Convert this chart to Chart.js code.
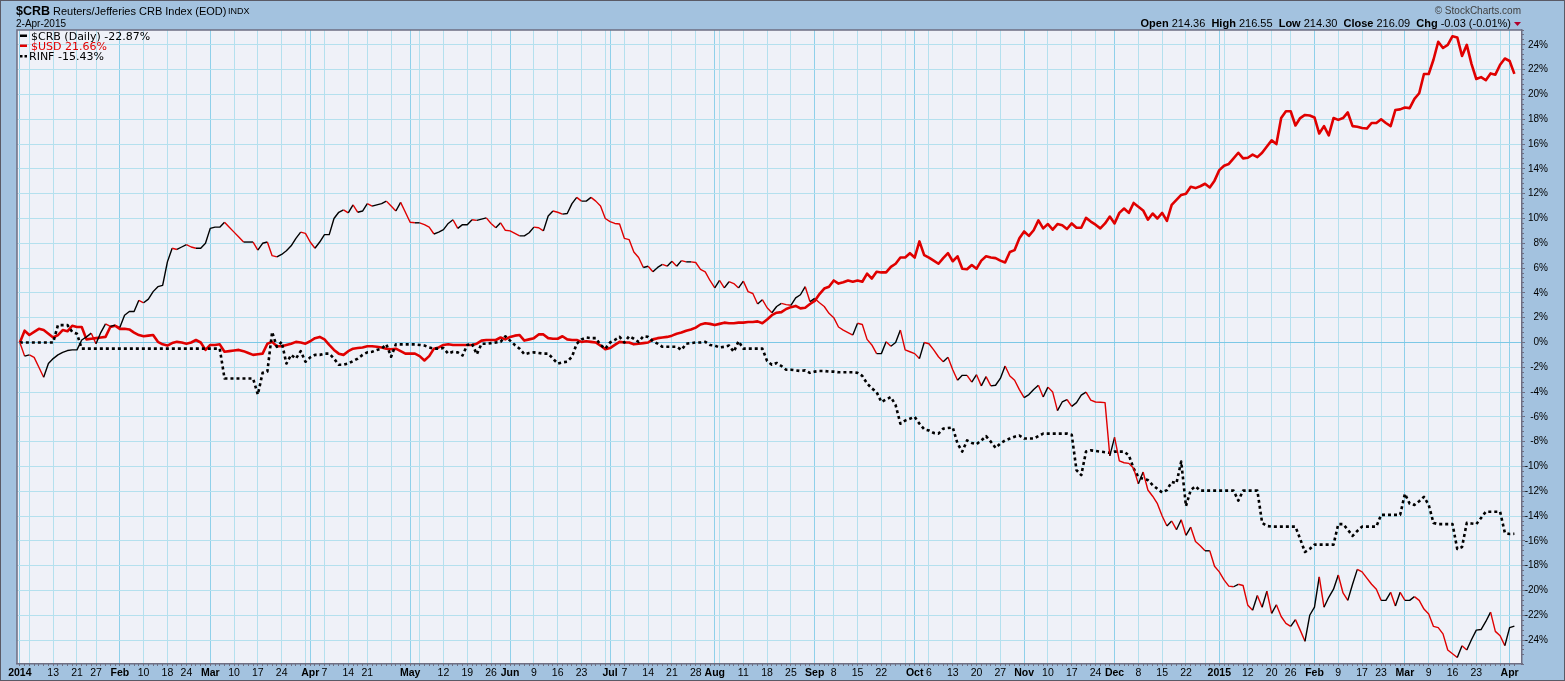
<!DOCTYPE html>
<html>
<head>
<meta charset="utf-8">
<title>$CRB vs $USD vs RINF</title>
<script src="https://cdn.jsdelivr.net/npm/chart.js@4.4.1/dist/chart.umd.min.js"></script>
<style>
  html, body { margin: 0; padding: 0; background: #a3c2df; }
</style>
</head>
<body>
<canvas id="crb-chart" width="1565" height="681"></canvas>
<script>
// percent change since 2-Jan-2014, one value per trading day (index 0 = 2-Jan-2014, 314 = 2-Apr-2015)
const crb = [
  0, -1.1, -1.0, -1.2, -2.0, -2.8, -1.7, -1.3, -1.0, -0.8,
  -0.65, -0.6, -0.6, 0.2, 0.45, 0.75, -0.1, 0.8, 1.5, 1.3,
  1.4, 1.2, 2.2, 2.5, 2.5, 3.4, 3.2, 3.5, 4.1, 4.5,
  4.6, 6.5, 7.6, 7.5, 7.7, 7.9, 7.7, 7.6, 7.6, 8.0,
  9.2, 9.3, 9.3, 9.7, 9.3, 8.9, 8.5, 8.1, 8.1, 8.1,
  7.45, 8.0, 8.1, 7.0, 6.9, 7.1, 7.4, 7.8, 8.4, 8.9,
  8.8, 8.1, 7.6, 8.1, 8.7, 8.7, 10.0, 10.5, 10.7, 10.45,
  11.1, 10.5, 10.6, 11.2, 11.0, 11.1, 11.2, 11.4, 11.0, 10.6,
  11.3, 10.5, 9.7, 9.65, 9.65, 9.5, 9.3, 8.75, 8.9, 9.1,
  9.6, 9.9, 9.2, 9.5, 9.5, 9.9, 9.85, 9.95, 10.05, 9.6,
  9.25, 9.65, 9.05, 9.0, 8.8, 8.6, 8.6, 8.85, 9.3, 9.25,
  9.0, 10.2, 10.6, 10.5, 10.35, 10.4, 11.2, 11.7, 11.4, 11.4,
  11.7, 11.4, 11.0, 10.0, 9.75, 9.6, 9.55, 8.4, 8.3, 7.3,
  6.85, 6.05, 6.15, 5.7, 6.05, 6.3, 6.15, 6.55, 6.15, 6.6,
  6.5, 6.5, 6.45, 5.9, 5.7, 5.0, 4.4, 5.0, 4.4, 4.9,
  4.75, 4.4, 4.95, 4.1, 3.95, 3.1, 3.45, 2.8, 2.4, 2.9,
  3.15, 3.05, 3.0, 3.6, 3.85, 4.5, 3.3, 3.55, 3.2, 2.9,
  2.35, 2.0, 1.25, 1.0, 0.8, 0.6, 1.55, 1.45, 0.25, -0.2,
  -0.9, -0.9, 0.05, -0.3, 0.0, 1.0, -0.6, -0.75, -0.9, -1.3,
  0.0, -0.1, -0.6, -1.15, -1.55, -1.2, -2.2, -3.05, -2.65, -2.65,
  -3.2, -2.6, -3.5, -2.75, -3.5, -3.45, -2.9, -1.9, -2.7, -3.05,
  -3.8, -4.45, -4.2, -3.8, -3.45, -4.4, -3.6, -4.0, -5.5, -4.8,
  -4.6, -5.15, -4.85, -4.25, -4.0, -4.65, -4.8, -4.82, -4.85, -9.15,
  -7.65, -9.55, -9.7, -9.75, -10.15, -11.4, -10.45, -11.9, -12.4, -13.0,
  -14.0, -14.8, -14.4, -15.1, -14.3, -15.55, -14.9, -16.05, -16.4, -16.8,
  -16.8, -18.05, -18.5, -19.15, -19.65, -19.7, -19.5, -19.6, -21.2, -21.6,
  -20.4, -21.35, -20.05, -21.85, -21.15, -22.1, -22.65, -22.9, -22.35, -23.2,
  -24.1, -22.0, -21.35, -18.9, -21.35, -20.55, -19.9, -18.75, -20.2, -20.8,
  -19.5, -18.3, -18.5, -19.0, -19.5, -19.9, -20.8, -20.8, -20.15, -21.25,
  -20.15, -20.8, -20.8, -20.5, -20.8, -21.5, -21.9, -22.9, -23.0, -23.5,
  -24.8, -25.1, -25.4, -24.45, -24.8, -23.95, -23.2, -23.15, -22.5, -21.75,
  -23.3, -23.65, -24.45, -23.0, -22.87
];

const usd = [
  0, 0.95, 0.6, 0.85, 1.1, 1.0, 0.7, 0.4, 0.6, 1.0,
  0.9, 1.35, 1.25, 1.25, 0.25, 0.3, 0.35, 0.4, 0.45, 1.25,
  1.35, 1.1, 1.1, 1.05, 0.8, 0.6, 0.5, 0.55, 0.6, 0.05,
  -0.15, -0.25, -0.05, 0.05, 0.0, -0.1, 0.0, 0.2, 0.0, -0.6,
  -0.2, -0.2, -0.15, -0.75, -0.7, -0.65, -0.6, -0.7, -0.85, -1.0,
  -0.95, -0.9, -0.1, 0.05, -0.3, -0.3, -0.2, -0.1, 0.05, 0.0,
  -0.1, 0.1, 0.35, 0.45, 0.25, -0.2, -0.6, -0.9, -1.0, -0.7,
  -0.5, -0.45, -0.4, -0.3, -0.3, -0.35, -0.4, -0.5, -0.55, -0.5,
  -0.7, -0.9, -0.9, -0.9, -1.1, -1.45, -1.1, -0.5, -0.4, -0.2,
  -0.15, -0.2, -0.2, -0.2, -0.2, -0.2, -0.1, 0.15, 0.2, 0.2,
  0.2, 0.4, 0.25, 0.45, 0.55, 0.6, 0.15, 0.25, 0.35, 0.65,
  0.65, 0.35, 0.3, 0.3, 0.5, 0.25, 0.2, 0.2, 0.05, 0.1,
  0.05, 0.0, -0.25, -0.55, -0.45, -0.2, 0.05, 0.0, 0.0, -0.15,
  -0.1, -0.05, 0.0, 0.25, 0.35, 0.4, 0.45, 0.55, 0.7, 0.8,
  0.95, 1.05, 1.2, 1.45, 1.55, 1.5, 1.4, 1.5, 1.6, 1.55,
  1.55, 1.6, 1.6, 1.65, 1.65, 1.7, 1.55, 1.85, 2.2, 2.4,
  2.45, 2.7, 2.85, 2.95, 2.75, 2.8, 3.1, 3.35, 3.9, 4.35,
  4.5, 5.0, 4.75, 4.85, 5.0, 4.9, 5.0, 4.9, 5.55, 5.15,
  5.7, 5.65, 5.65, 6.1, 6.35, 6.85, 6.85, 7.2, 6.85, 8.15,
  7.05, 6.85, 6.6, 6.35, 6.8, 7.2, 6.55, 6.95, 5.95, 5.9,
  6.25, 5.95, 6.6, 6.95, 6.85, 6.8, 6.6, 6.45, 7.3, 7.45,
  8.4, 8.95, 8.6, 9.05, 9.85, 9.2, 9.55, 9.1, 9.55, 9.45,
  9.15, 9.6, 9.25, 9.25, 10.05, 9.75, 9.5, 9.2, 9.6, 10.15,
  9.6, 10.45, 10.8, 10.45, 11.25, 10.95, 10.65, 9.9, 10.4, 10.0,
  10.45, 9.8, 11.1, 11.5, 11.9, 12.0, 12.55, 12.45, 12.6, 12.8,
  12.5, 13.05, 13.9, 14.25, 14.4, 14.85, 15.3, 14.85, 14.9, 15.15,
  14.95, 15.3, 15.8, 16.3, 16.0, 18.1, 18.65, 18.65, 17.5, 18.1,
  18.35, 18.3, 18.15, 16.85, 17.45, 16.7, 18.1, 17.95, 18.1, 18.55,
  17.45, 17.4, 17.3, 17.25, 17.7, 17.7, 18.0, 17.7, 17.45, 18.75,
  18.8, 18.95, 18.9, 19.65, 20.1, 21.65, 21.65, 22.8, 24.25, 23.75,
  24.0, 24.7, 24.6, 23.1, 24.0, 22.45, 21.25, 21.4, 21.15, 21.7,
  21.6, 22.4, 22.9, 22.7, 21.66
];

const rinf = [
  0, 0, 0, 0, 0, 0, 0, 0, 1.4, 1.4,
  1.4, 0.85, 0.7, -0.5, -0.5, -0.5, -0.5, -0.5, -0.5, -0.5,
  -0.5, -0.5, -0.5, -0.5, -0.5, -0.5, -0.5, -0.5, -0.5, -0.5,
  -0.5, -0.5, -0.5, -0.5, -0.5, -0.5, -0.5, -0.5, -0.5, -0.5,
  -0.5, -0.5, -0.5, -2.9, -2.9, -2.9, -2.9, -2.9, -2.9, -2.9,
  -4.2, -2.45, -2.35, 0.85, -0.35, 0.05, -1.7, -1.0, -1.3, -0.7,
  -1.55, -1.2, -1.0, -1.0, -0.9, -0.9, -1.3, -1.8, -1.8, -1.7,
  -1.5, -1.3, -1.0, -0.8, -0.75, -0.6, -0.5, -0.15, -1.15, -0.15,
  -0.15, -0.15, -0.15, -0.15, -0.2, -0.25, -0.4, -0.5, -0.5, -0.45,
  -0.9, -0.75, -0.8, -1.05, -0.2, -0.1, -0.95, -0.1, -0.1, -0.05,
  0.0, 0.05, 0.5, 0.15, -0.2, -0.5, -0.95, -0.85, -0.8, -0.85,
  -0.9, -0.9, -1.3, -1.7, -1.6, -1.55, -1.15, -0.1, 0.25, 0.4,
  0.35, 0.35, -0.2, -0.5, 0.0, 0.2, 0.45, 0.0, 0.5, 0.3,
  0.05, 0.5, 0.45, 0.1, -0.1, -0.35, -0.35, -0.35, -0.35, -0.6,
  -0.1, -0.05, 0.0, 0.0, 0.05, -0.2, -0.25, -0.4, -0.35, -0.25,
  -0.75, 0.1, -0.5, -0.5, -0.5, -0.5, -0.5, -1.5, -1.8, -1.65,
  -1.9, -2.2, -2.2, -2.25, -2.3, -2.25, -2.45, -2.35, -2.3, -2.3,
  -2.35, -2.35, -2.4, -2.4, -2.4, -2.4, -2.45, -2.7, -3.3, -3.7,
  -4.0, -4.8, -4.6, -4.4, -5.05, -6.55, -6.3, -6.15, -6.0, -6.55,
  -7.0, -7.1, -7.3, -7.35, -6.95, -6.9, -6.85, -8.15, -8.8, -7.9,
  -8.1, -8.2, -7.9, -7.55, -8.0, -8.5, -8.15, -7.9, -7.75, -7.6,
  -7.5, -7.75, -7.75, -7.75, -7.55, -7.35, -7.35, -7.35, -7.35, -7.35,
  -7.35, -7.45, -10.3, -10.7, -8.8, -8.7, -8.75, -8.8, -8.85, -8.9,
  -8.8, -8.8, -8.8, -9.1, -10.15, -10.85, -11.0, -11.1, -11.5, -11.8,
  -12.1, -11.9, -11.25, -11.35, -9.6, -13.2, -11.9, -11.6, -11.95, -11.95,
  -11.95, -11.95, -11.95, -11.95, -11.95, -11.95, -12.75, -11.95, -11.95, -11.95,
  -11.95, -14.55, -14.8, -14.85, -14.85, -14.85, -14.85, -14.85, -14.85, -15.85,
  -16.9, -16.65, -16.3, -16.3, -16.3, -16.3, -16.3, -14.65, -14.65, -15.1,
  -15.6, -15.2, -14.85, -14.85, -14.85, -14.85, -13.9, -13.9, -13.9, -13.9,
  -13.9, -12.2, -13.0, -13.1, -12.8, -12.45, -13.1, -14.55, -14.65, -14.65,
  -14.65, -14.65, -16.65, -16.5, -14.55, -14.6, -14.65, -14.15, -13.65, -13.65,
  -13.65, -13.65, -15.35, -15.45, -15.43
];

// x axis: trading-day index of each week / month gridline and its label
const tickDays = [0, 2, 7, 12, 16, 21, 26, 31, 35, 40, 45, 50, 55, 60, 61, 64, 69, 73, 78,
  82, 84, 89, 94, 99, 103, 108, 113, 118, 123, 124, 127, 132, 137, 142, 146, 147, 152, 157, 162,
  167, 171, 176, 181, 186, 188, 191, 196, 201, 206, 211, 216, 221, 226, 230, 235, 240, 245, 249,
  252, 253, 258, 263, 267, 272, 277, 282, 286, 291, 296, 301, 306, 311, 313];
const tickText = ['2014', '', '13', '21', '27', 'Feb', '10', '18', '24', 'Mar', '10', '17', '24', '', 'Apr', '7', '14', '21', '',
  'May', '', '12', '19', '26', 'Jun', '9', '16', '23', '', 'Jul', '7', '14', '21', '28', 'Aug', '', '11', '18', '25',
  'Sep', '8', '15', '22', '', 'Oct', '6', '13', '20', '27', 'Nov', '10', '17', '24', 'Dec', '8', '15', '22', '',
  '2015', '', '12', '20', '26', 'Feb', '9', '17', '23', 'Mar', '9', '16', '23', '', 'Apr'];
const monthTick = ['2014', 'Feb', 'Mar', 'Apr', 'May', 'Jun', 'Jul', 'Aug', 'Sep', 'Oct', 'Nov', 'Dec', '2015'];
const yTicks = [24, 22, 20, 18, 16, 14, 12, 10, 8, 6, 4, 2, 0, -2, -4, -6, -8, -10, -12, -14, -16, -18, -20, -22, -24];

const OUTER_BG = '#a3c2df';
const PLOT_BG = '#eff1f8';
const GRID = '#b4e0ee';
const MONTH_GRID = '#8fd0ea';
const ZERO_GRID = '#7cc8e6';
const AXIS = '#6e6e82';
const RED = '#e00000';
const SANS = '"Liberation Sans", Arial, sans-serif';
const LEGEND_FONT = '"DejaVu Sans", Verdana, sans-serif';

const isMonth = i => monthTick.includes(tickText[i]);
const pts = arr => arr.map((v, i) => ({ x: i, y: v }));

// title, price line, legend and frame
const chrome = {
    id: 'chrome',
    beforeDraw(chart) {
        const { ctx, chartArea: a, width, height } = chart;
        ctx.save();
        ctx.fillStyle = OUTER_BG;
        ctx.fillRect(0, 0, width, height);
        ctx.fillStyle = PLOT_BG;
        ctx.fillRect(a.left, a.top, a.right - a.left, a.bottom - a.top);
        ctx.restore();
    },
    afterDraw(chart) {
        const { ctx, chartArea: a, width, height } = chart;
        ctx.save();

        // plot frame (top + left), outer frame
        ctx.strokeStyle = AXIS;
        ctx.lineWidth = 1.5;
        ctx.beginPath();
        ctx.moveTo(a.left, a.bottom);
        ctx.lineTo(a.left, a.top);
        ctx.lineTo(a.right, a.top);
        ctx.stroke();
        ctx.strokeStyle = '#5a5a66';
        ctx.lineWidth = 1;
        ctx.strokeRect(0.5, 0.5, width - 1, height - 1);

        ctx.textBaseline = 'alphabetic';
        ctx.textAlign = 'left';
        ctx.fillStyle = '#000';

        // title
        ctx.font = 'bold 12.5px ' + SANS;
        ctx.fillText('$CRB', 16, 15);
        ctx.font = '11px ' + SANS;
        ctx.fillText('Reuters/Jefferies CRB Index (EOD)', 53, 15);
        ctx.font = '9px ' + SANS;
        ctx.fillText('INDX', 228, 14);
        ctx.font = '10px ' + SANS;
        ctx.fillText('2-Apr-2015', 16, 27);

        // top right
        ctx.textAlign = 'right';
        ctx.font = '10px ' + SANS;
        ctx.fillStyle = '#404040';
        ctx.fillText('\u00a9 StockCharts.com', 1521, 14);

        const parts = [
            ['Open', true], [' 214.36  ', false],
            ['High', true], [' 216.55  ', false],
            ['Low', true], [' 214.30  ', false],
            ['Close', true], [' 216.09  ', false],
            ['Chg', true], [' -0.03 (-0.01%)', false]
        ];
        ctx.textAlign = 'left';
        ctx.fillStyle = '#000';
        let total = 0;
        parts.forEach(p => {
            ctx.font = (p[1] ? 'bold ' : '') + '11px ' + SANS;
            total += ctx.measureText(p[0]).width;
        });
        let px = 1511 - total;
        parts.forEach(p => {
            ctx.font = (p[1] ? 'bold ' : '') + '11px ' + SANS;
            ctx.fillText(p[0], px, 27);
            px += ctx.measureText(p[0]).width;
        });
        ctx.fillStyle = '#b0002a';
        ctx.beginPath();
        ctx.moveTo(1514, 22);
        ctx.lineTo(1521, 22);
        ctx.lineTo(1517.5, 26);
        ctx.closePath();
        ctx.fill();

        // legend
        ctx.font = '11px ' + LEGEND_FONT;
        ctx.fillStyle = '#000';
        ctx.fillRect(20, 34.5, 7, 2.5);
        ctx.fillText('$CRB (Daily) -22.87%', 31, 39.5);
        ctx.fillStyle = RED;
        ctx.fillRect(20, 44.5, 7, 2.5);
        ctx.fillText('$USD 21.66%', 31, 49.5);
        ctx.fillStyle = '#000';
        ctx.fillRect(20, 55, 2.5, 2.5);
        ctx.fillRect(24.5, 55, 2.5, 2.5);
        ctx.fillText('RINF -15.43%', 29, 60);

        ctx.restore();
    }
};

const X_MIN = -0.6, X_MAX = 315.6;
const Y_MIN = -25.93, Y_MAX = 25.2;

new Chart(document.getElementById('crb-chart'), {
    type: 'line',
    data: {
        datasets: [
            {
                label: '$CRB (Daily)',
                data: pts(crb),
                borderColor: '#000',
                borderWidth: 1.4,
                segment: {
                    borderColor: ctx => ctx.p1.parsed.y < ctx.p0.parsed.y ? RED : '#000'
                }
            },
            {
                label: 'RINF',
                data: pts(rinf),
                borderColor: '#000',
                borderWidth: 2.6,
                borderDash: [3, 3]
            },
            {
                label: '$USD',
                data: pts(usd),
                borderColor: RED,
                borderWidth: 2.6
            }
        ]
    },
    options: {
        responsive: false,
        animation: false,
        devicePixelRatio: 1,
        layout: { padding: { left: 17, top: 30, right: 17, bottom: 0 } },
        elements: {
            point: { radius: 0, hoverRadius: 0 },
            line: { tension: 0, borderJoinStyle: 'round', borderCapStyle: 'butt' }
        },
        plugins: {
            legend: { display: false },
            tooltip: { enabled: false }
        },
        scales: {
            x: {
                type: 'linear',
                position: 'bottom',
                weight: 1,
                min: X_MIN,
                max: X_MAX,
                afterBuildTicks: s => { s.ticks = tickDays.map(v => ({ value: v })); },
                afterFit: s => { s.height = 17; },
                grid: {
                    color: ctx => isMonth(ctx.index) ? MONTH_GRID : GRID,
                    drawTicks: false
                },
                border: { color: AXIS, width: 1.5 },
                ticks: {
                    autoSkip: false,
                    maxRotation: 0,
                    padding: 3,
                    color: '#000',
                    font: ctx => ({ family: SANS, size: 10.5, weight: isMonth(ctx.index) ? 'bold' : 'normal' }),
                    callback: (v, i) => tickText[i]
                }
            },
            xMinor: {
                type: 'linear',
                axis: 'x',
                position: 'bottom',
                weight: 0,
                min: X_MIN,
                max: X_MAX,
                afterBuildTicks: s => { s.ticks = crb.map((v, i) => ({ value: i })); },
                afterFit: s => { s.height = 0; },
                grid: { drawOnChartArea: false, tickLength: 2, tickColor: AXIS, color: AXIS },
                border: { display: false },
                ticks: { display: false }
            },
            y: {
                type: 'linear',
                position: 'right',
                weight: 1,
                min: Y_MIN,
                max: Y_MAX,
                afterBuildTicks: s => { s.ticks = yTicks.map(v => ({ value: v })); },
                afterFit: s => { s.width = 26; },
                grid: {
                    color: ctx => ctx.tick && ctx.tick.value === 0 ? ZERO_GRID : GRID,
                    tickLength: 3,
                    tickColor: AXIS
                },
                border: { color: AXIS, width: 1.5 },
                ticks: {
                    crossAlign: 'far',
                    padding: 0,
                    color: '#000',
                    font: { family: SANS, size: 10 },
                    callback: v => v + '%'
                }
            },
            yMinor: {
                type: 'linear',
                axis: 'y',
                position: 'right',
                weight: 0,
                min: Y_MIN,
                max: Y_MAX,
                afterFit: s => { s.width = 0; },
                grid: { drawOnChartArea: false, tickLength: 2, tickColor: AXIS, color: AXIS },
                border: { display: false },
                ticks: { display: false, stepSize: 0.4 }
            }
        }
    },
    plugins: [chrome]
});
</script>
</body>
</html>
